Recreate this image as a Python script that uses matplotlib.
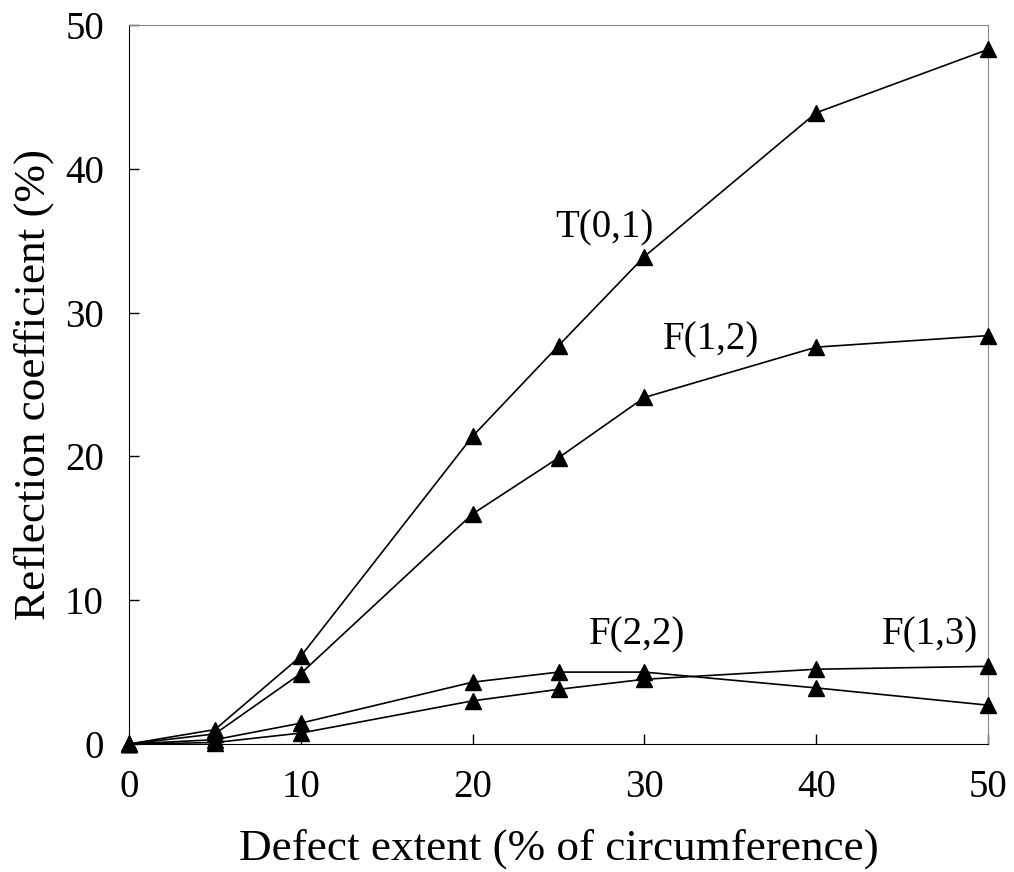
import matplotlib
matplotlib.use("Agg")
import matplotlib.pyplot as plt

x = [0, 5, 10, 20, 25, 30, 40, 50]
t01 = [0, 1.0, 6.1, 21.4, 27.7, 33.9, 43.9, 48.3]
f12 = [0, 0.7, 4.9, 16.0, 19.9, 24.1, 27.6, 28.4]
f22 = [0, 0.3, 1.45, 4.3, 5.0, 5.0, 3.9, 2.7]
f13 = [0, 0.1, 0.76, 3.0, 3.8, 4.5, 5.2, 5.4]

labels = ["T(0,1)", "F(1,2)", "F(2,2)", "F(1,3)"]
label_pos = [(27.7, 35.9), (33.9, 28.1), (29.6, 7.6), (46.6, 7.6)]

plt.rcParams['font.family'] = ['Liberation Serif', 'DejaVu Serif']

fig = plt.figure(figsize=(10.14, 8.72), dpi=100)
ax = fig.add_axes([0.1272, 0.1468, 0.9744 - 0.1272, 0.9713 - 0.1468])

for s in [t01, f12, f22, f13]:
    ax.plot(x, s, color='black', lw=1.2, marker='^', markersize=11, clip_on=False, zorder=3)

for lab, (lx, ly) in zip(labels, label_pos):
    ax.text(lx, ly, lab, fontsize=28, ha='center', va='center')

ax.set_xlim(0, 50)
ax.set_ylim(0, 50)
ax.set_xticks([0, 10, 20, 30, 40, 50])
ax.set_yticks([0, 10, 20, 30, 40, 50])
ax.tick_params(direction='in', length=7, width=1, labelsize=28)
ax.tick_params(axis='x', pad=18)
ax.tick_params(axis='y', pad=18)
ax.spines['top'].set_color('#888888')
ax.spines['right'].set_color('#888888')
ax.set_xlabel("Defect extent (% of circumference)", fontsize=32.5, labelpad=16)
ax.set_ylabel("Reflection coefficient (%)", fontsize=32.5, labelpad=8)

fig.savefig("out.png", dpi=100)
